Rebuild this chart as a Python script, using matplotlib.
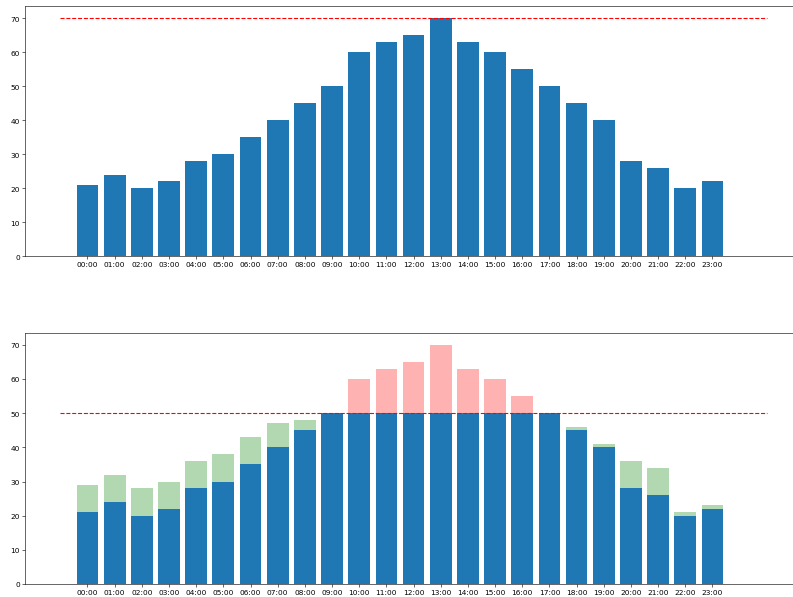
import numpy as np
import matplotlib
matplotlib.use("Agg")
import matplotlib.pyplot as plt

# hourly load and the cap applied in the lower panel
hours = ["%02d:00" % h for h in range(24)]
load = [21, 24, 20, 22, 28, 30, 35, 40, 45, 50, 60, 63,
        65, 70, 63, 60, 55, 50, 45, 40, 28, 26, 20, 22]
shifted = [8, 8, 8, 8, 8, 8, 8, 7, 3, 0, 0, 0,
           0, 0, 0, 0, 0, 0, 1, 1, 8, 8, 1, 1]
peak = 70
cap = 50

x = np.arange(len(hours))
load = np.array(load)
shifted = np.array(shifted)
capped = np.minimum(load, cap)
excess = load - capped

fig = plt.figure(figsize=(15, 11.31), dpi=52.87)
ax1 = fig.add_axes([0.0315, 0.570, 0.98, 0.418])
ax2 = fig.add_axes([0.0315, 0.0217, 0.98, 0.420])

# original load with its peak
ax1.bar(x, load)
ax1.hlines(peak, -1, 25, colors="r", linestyles="--")
ax1.set_xticks(x)
ax1.set_xticklabels(hours)

# load capped at 50, excess shown in red, moved load in green
ax2.bar(x, capped)
ax2.bar(x, excess, bottom=capped, color="r", alpha=0.3)
ax2.bar(x, shifted, bottom=capped, color="g", alpha=0.3)
ax2.hlines(cap, -1, 25, colors="r", linestyles="--")
ax2.set_xticks(x)
ax2.set_xticklabels(hours)

fig.savefig("out.png", dpi=52.87)
